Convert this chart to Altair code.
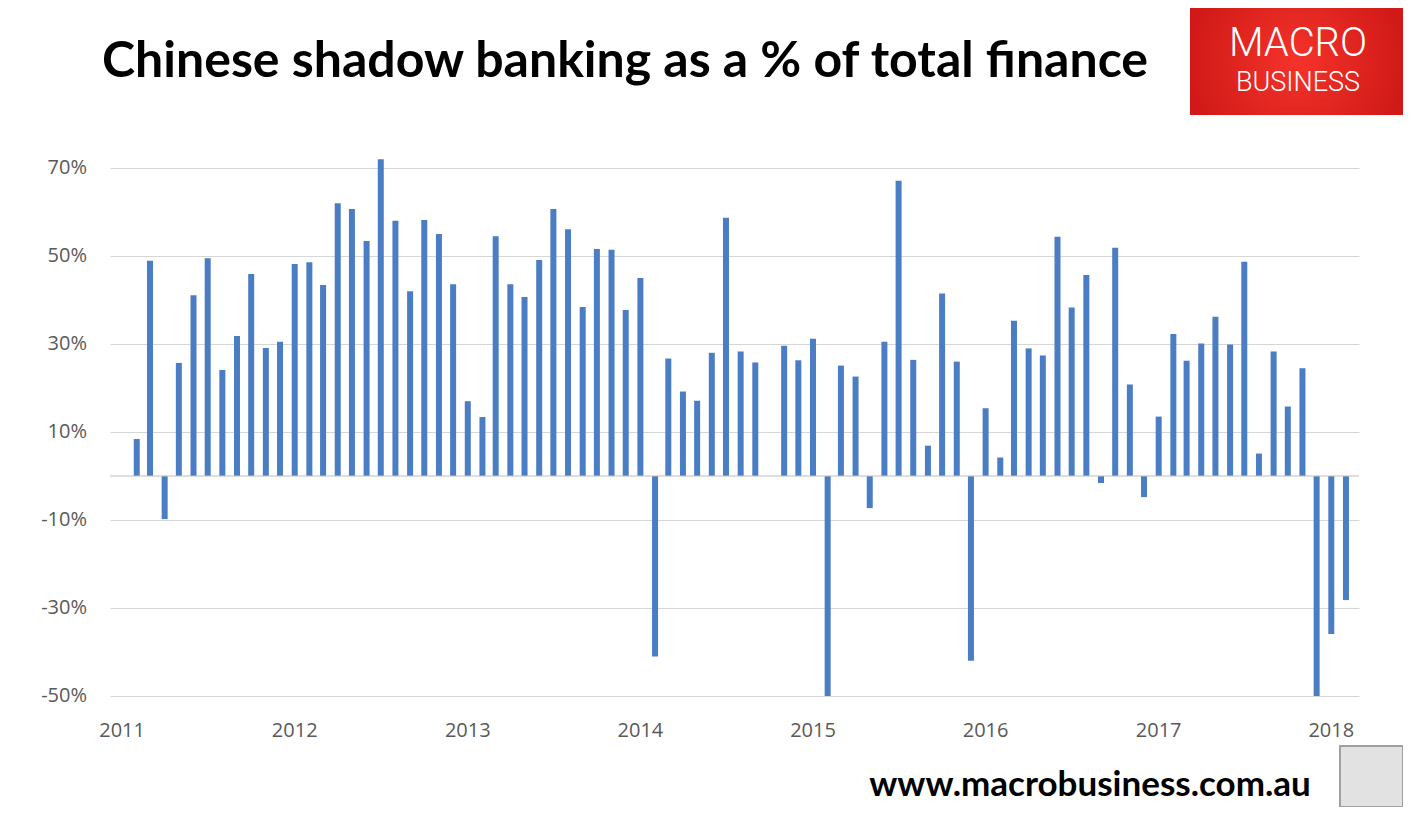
import altair as alt
import pandas as pd

title_text = "Chinese shadow banking as a % of total finance"
footer_text = "www.macrobusiness.com.au"
logo_line1 = "MACRO"
logo_line2 = "BUSINESS"

first_month = "2011-01-01"
vals_2011 = [None, 8.4, 48.9, -9.8, 25.7, 41.1, 49.5, 24.1, 31.8, 45.9, 29.1, 30.5]
vals_2012 = [48.2, 48.6, 43.4, 62.0, 60.7, 53.4, 72.0, 58.0, 42.0, 58.2, 55.0, 43.6]
vals_2013 = [17.0, 13.4, 54.5, 43.6, 40.7, 49.1, 60.7, 56.1, 38.4, 51.6, 51.4, 37.7]
vals_2014 = [45.0, -41.0, 26.7, 19.2, 17.1, 28.0, 58.7, 28.3, 25.8, None, 29.6, 26.3]
vals_2015 = [31.2, -50.0, 25.1, 22.6, -7.3, 30.5, 67.1, 26.4, 6.9, 41.5, 26.0, -42.0]
vals_2016 = [15.4, 4.2, 35.3, 29.0, 27.4, 54.4, 38.3, 45.7, -1.6, 51.9, 20.8, -4.8]
vals_2017 = [13.5, 32.3, 26.2, 30.1, 36.2, 29.9, 48.7, 5.1, 28.3, 15.8, 24.5, -50.0]
vals_2018 = [-35.9, -28.2]

y_ticks = [-50, -30, -10, 10, 30, 50, 70]
year_ticks = [2011, 2012, 2013, 2014, 2015, 2016, 2017, 2018]

values = vals_2011 + vals_2012 + vals_2013 + vals_2014 + vals_2015 + vals_2016 + vals_2017 + vals_2018
dates = pd.date_range(first_month, periods=len(values), freq="MS")
df = pd.DataFrame({"date": dates.strftime("%Y-%m-%d"), "value": values}).dropna()

ytick_df = pd.DataFrame({"v": y_ticks, "lab": [f"{v}%" for v in y_ticks]})
xtick_df = pd.DataFrame({"date": [f"{y}-01-01" for y in year_ticks],
                         "lab": [str(y) for y in year_ticks]})

W, H = 1249, 572
BAR = "#4a7dc3"
GRID = "#d6d6d6"
LABEL = "#595959"

x_scale = alt.Scale(
    type="utc",
    domain=[alt.DateTime(year=2010, month=12, date=17, utc=True),
            alt.DateTime(year=2018, month=2, date=18, utc=True)],
)
y_scale = alt.Scale(domain=[-50, 80], nice=False, zero=True)

x_enc = alt.X("date:T", scale=x_scale, axis=None)
y_enc = alt.Y(
    "value:Q", scale=y_scale,
    axis=alt.Axis(values=y_ticks, labels=False, title=None, domain=False,
                  ticks=False, gridColor=GRID, gridWidth=1),
)

bars = alt.Chart(df).mark_bar(width=6, color=BAR).encode(x=x_enc, y=y_enc)

zero = alt.Chart(pd.DataFrame({"z": [0]})).mark_rule(color="#bdbdbd", strokeWidth=1.2).encode(
    y=alt.Y("z:Q", scale=y_scale)
)

ylabels = alt.Chart(ytick_df).mark_text(
    align="right", baseline="middle", fontSize=20, font="Open Sans", color=LABEL
).encode(y=alt.Y("v:Q", scale=y_scale), x=alt.value(-23), text="lab:N")

xlabels = alt.Chart(xtick_df).mark_text(
    align="center", baseline="middle", fontSize=20, font="Open Sans", color=LABEL
).encode(x=alt.X("date:T", scale=x_scale), y=alt.value(607), text="lab:N")


def text_layer(txt, x, y, size, weight="bold", color="black", font="Lato"):
    return alt.Chart(pd.DataFrame({"t": [txt]})).mark_text(
        fontSize=size, fontWeight=weight, color=color, font=font,
        align="center", baseline="middle",
    ).encode(text="t:N", x=alt.value(x), y=alt.value(y))


title = text_layer(title_text, 515, -62, 50)
footer = text_layer(footer_text, 980, 661, 35)

logo_bg = alt.Chart(pd.DataFrame({"a": [1]})).mark_rect(
    fill=alt.RadialGradient(
        gradient="radial",
        stops=[alt.GradientStop(color="#f5332b", offset=0),
               alt.GradientStop(color="#d11a17", offset=1)],
    )
).encode(x=alt.value(1080), x2=alt.value(1293), y=alt.value(-116), y2=alt.value(-9))
logo1 = text_layer(logo_line1, 1188, -80, 40, weight=300, color="white", font="Roboto")
logo2 = text_layer(logo_line2, 1188, -41, 27, weight=300, color="white", font="Roboto")

wolf = alt.Chart(pd.DataFrame({"a": [1]})).mark_rect(
    fill="#e2e2e2", stroke="#a0a0a0", strokeWidth=2
).encode(x=alt.value(1230), x2=alt.value(1293), y=alt.value(622), y2=alt.value(683))

chart = alt.layer(bars, zero, ylabels, xlabels, title, footer, logo_bg, logo1, logo2, wolf).properties(
    width=W, height=H,
    autosize=alt.AutoSizeParams(type="none"),
    padding={"left": 102, "top": 116, "right": 44, "bottom": 111},
    background="white",
).configure_view(stroke=None)

chart.save("out.html", embed_options={"renderer": "svg", "actions": False})
